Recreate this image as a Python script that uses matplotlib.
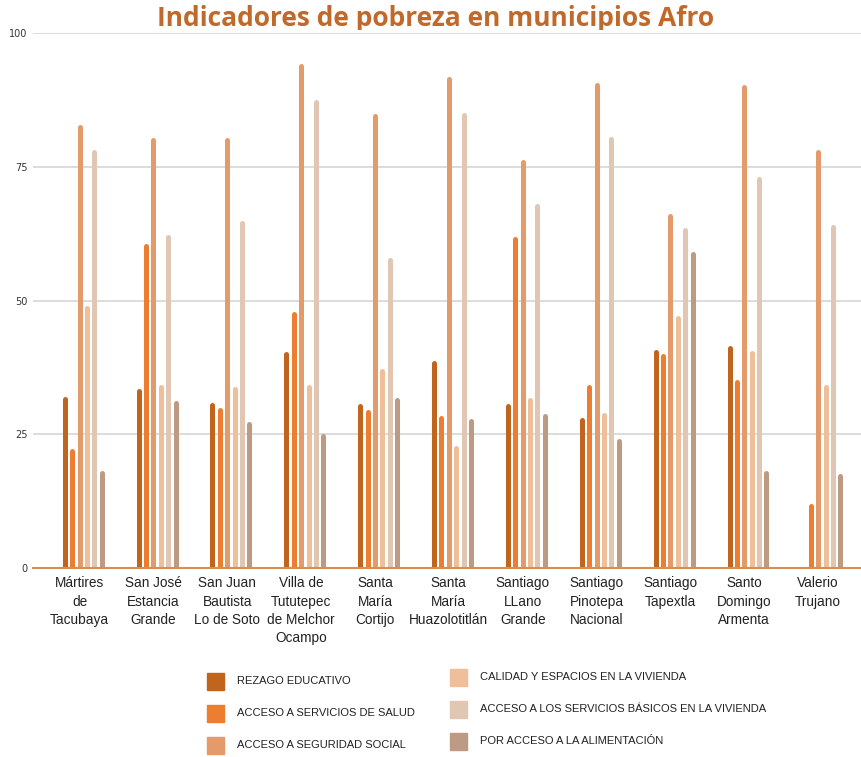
import numpy as np
import matplotlib.pyplot as plt
from matplotlib.patches import Rectangle
from matplotlib.transforms import Bbox, TransformedBbox

municipios = ["Mártires\nde\nTacubaya", "San José\nEstancia\nGrande", "San Juan\nBautista\nLo de Soto",
              "Villa de\nTututepec\nde Melchor\nOcampo", "Santa\nMaría\nCortijo",
              "Santa\nMaría\nHuazolotitlán", "Santiago\nLLano\nGrande", "Santiago\nPinotepa\nNacional",
              "Santiago\nTapextla", "Santo\nDomingo\nArmenta", "Valerio\nTrujano"]

indicadores = ["REZAGO EDUCATIVO", "ACCESO A SERVICIOS DE SALUD", "ACCESO A SEGURIDAD SOCIAL",
               "CALIDAD Y ESPACIOS EN LA VIVIENDA", "ACCESO A LOS SERVICIOS BÁSICOS EN LA VIVIENDA",
               "POR ACCESO A LA ALIMENTACIÓN"]

rezago = [32.1, 33.5, 31.0, 40.4, 30.7, 38.8, 30.7, 28.2, 40.9, 41.6, 0]
salud = [22.4, 60.7, 29.9, 47.9, 29.6, 28.4, 61.9, 34.2, 40.0, 35.3, 12.0]
seguridad = [82.9, 80.4, 80.4, 94.3, 84.9, 91.8, 76.4, 90.8, 66.3, 90.3, 78.3]
calidad = [49.0, 34.3, 34.0, 34.3, 37.3, 22.9, 31.9, 29.1, 47.2, 40.7, 34.2]
basicos = [78.3, 62.4, 64.9, 87.5, 58.0, 85.2, 68.2, 80.6, 63.7, 73.2, 64.2]
alimentacion = [18.3, 31.2, 27.3, 25.2, 31.9, 28.0, 28.9, 24.2, 59.1, 18.3, 17.6]

colores = ["#C0651E", "#ED7D31", "#E39B6B", "#EFBF9A", "#E0C6B3", "#BC9A83"]

series = [rezago, salud, seguridad, calidad, basicos, alimentacion]

fig = plt.figure(figsize=(8.61, 7.57), dpi=100)
ax = fig.add_axes([33/861, 1 - 568/757, 1 - 33/861, 535/757])

x = np.arange(len(municipios))
for j, (vals, col) in enumerate(zip(series, colores)):
    vals = np.array(vals)
    m = vals > 0  # skip empty values (no bar drawn)
    # thin bars with rounded tops
    ax.vlines(x[m] + (j - 2.5) * 0.1, 0, vals[m] - 0.45, color=col, linewidth=3.6,
              capstyle="round", zorder=3)

ax.set_ylim(0, 100)
ax.set_xlim(-0.68, 10.53)
ax.set_yticks([0, 25, 50, 75, 100])
ax.tick_params(axis="y", length=0, labelsize=7, colors="#333333", pad=4)
ax.yaxis.grid(True, color="#d9d9d9", linewidth=1.3, zorder=0)
ax.set_axisbelow(True)
for s in ["top", "right", "left"]:
    ax.spines[s].set_visible(False)
ax.spines["bottom"].set_color("#D98E4F")
ax.spines["bottom"].set_linewidth(1.5)
ax.spines["bottom"].set_zorder(4)

ax.set_xticks(x - 0.05)
ax.set_xticklabels(municipios, fontsize=9.8, linespacing=1.38,
                   family=["Liberation Sans", "DejaVu Sans"], color="#222222")
ax.tick_params(axis="x", length=0, pad=6)

titulo = fig.text(436/861, 1 - 19/757, "Indicadores de pobreza en municipios Afro", ha="center",
                  va="center", fontsize=19, fontweight="bold", color="#C0692A",
                  family=["Open Sans", "DejaVu Sans"])
# the title is cut off just above the top gridline, like in the original
titulo.set_clip_box(TransformedBbox(Bbox([[0, 1 - 29.5/757], [1, 1]]), fig.transFigure))

# legend, two columns
pos_izq = [(207, 681), (207, 713), (207, 745)]
pos_der = [(450, 677), (450, 709), (450, 741)]
for k, (px, py) in enumerate(pos_izq + pos_der):
    fig.add_artist(Rectangle((px / 861, 1 - (py + 8.5) / 757), 17 / 861, 17 / 757,
                             transform=fig.transFigure, color=colores[k]))
    fig.text((px + 30) / 861, 1 - py / 757, indicadores[k], ha="left", va="center",
             fontsize=8, color="#222222", family=["Liberation Sans", "DejaVu Sans"])

plt.savefig("out.png", dpi=100)
